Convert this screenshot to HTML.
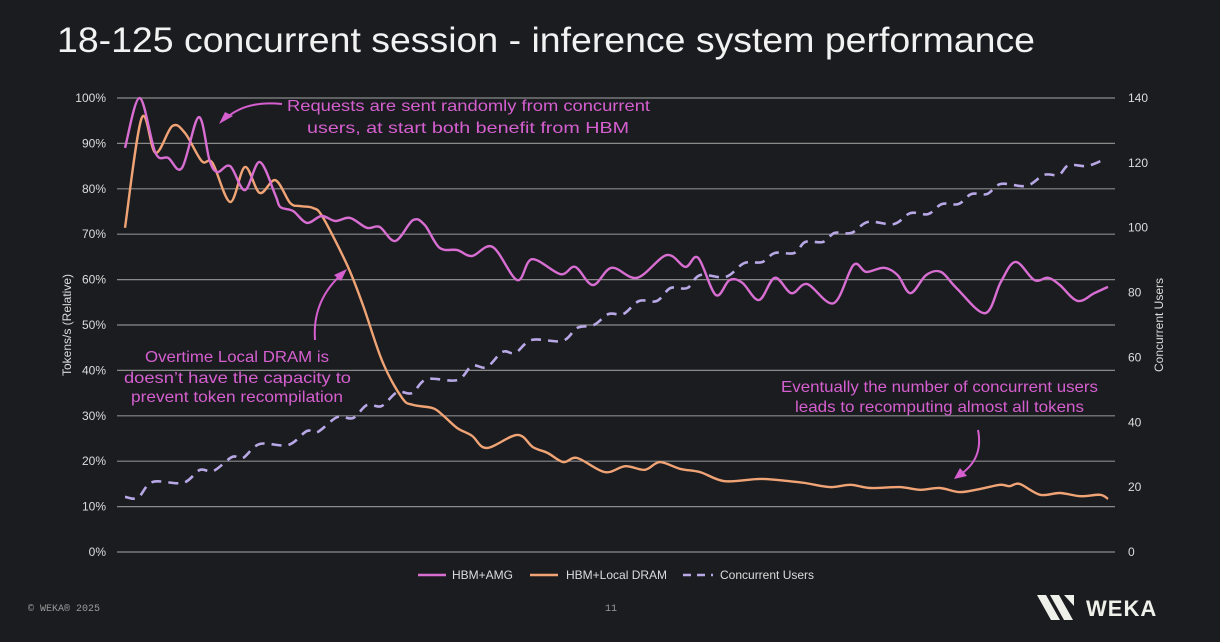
<!DOCTYPE html>
<html><head><meta charset="utf-8"><style>
html,body{margin:0;padding:0;background:#1b1c20;}
body{width:1220px;height:642px;overflow:hidden;position:relative;font-family:"Liberation Sans",sans-serif;}
svg{position:absolute;left:0;top:0;}
</style></head><body>
<svg id="chart" width="1220" height="642">
<text x="57" y="52" fill="#f2f2f2" font-size="35" textLength="978" lengthAdjust="spacingAndGlyphs">18-125 concurrent session - inference system performance</text>
<g id="grid"></g>
<g id="leftTicks" fill="#dcdcdc" font-size="12" text-anchor="end"></g>
<g id="rightTicks" fill="#dcdcdc" font-size="12"></g>
<text transform="translate(71,325) rotate(-90)" text-anchor="middle" fill="#dcdcdc" font-size="12">Tokens/s (Relative)</text>
<text transform="translate(1163,325) rotate(-90)" text-anchor="middle" fill="#dcdcdc" font-size="12">Concurrent Users</text>
<g id="series"></g>
<g fill="#d65fd0" font-size="16" font-family="'Liberation Sans',sans-serif">
<text x="287" y="111" textLength="363" lengthAdjust="spacingAndGlyphs">Requests are sent randomly from concurrent</text>
<text x="307" y="133" textLength="322" lengthAdjust="spacingAndGlyphs">users, at start both benefit from HBM</text>
<text x="145" y="362" textLength="184" lengthAdjust="spacingAndGlyphs">Overtime Local DRAM is</text>
<text x="124" y="383" textLength="227" lengthAdjust="spacingAndGlyphs">doesn’t have the capacity to</text>
<text x="131" y="402" textLength="212" lengthAdjust="spacingAndGlyphs">prevent token recompilation</text>
<text x="781" y="392" textLength="317" lengthAdjust="spacingAndGlyphs">Eventually the number of concurrent users</text>
<text x="795" y="412" textLength="289" lengthAdjust="spacingAndGlyphs">leads to recomputing almost all tokens</text>
</g>
<g stroke="#d65fd0" stroke-width="2" fill="none">
<path d="M282,104 Q245,100 224,120"/>
<path d="M315,340 Q312,300 343,273"/>
<path d="M978,430 Q984,460 958,476"/>
</g>
<g fill="#d65fd0">
<polygon points="219,124 233,116 225,112"/>
<polygon points="347,269 334,275 341,281"/>
<polygon points="954,479 967,476 960,468"/>
</g>
<g font-size="12" fill="#dcdcdc">
<line x1="418" y1="575" x2="446" y2="575" stroke="#d86ed2" stroke-width="2.5"/>
<text x="452" y="579">HBM+AMG</text>
<line x1="530" y1="575" x2="558" y2="575" stroke="#f0a475" stroke-width="2.5"/>
<text x="566" y="579">HBM+Local DRAM</text>
<line x1="683" y1="575" x2="713" y2="575" stroke="#b8a8e6" stroke-width="2.5" stroke-dasharray="8,6"/>
<text x="720" y="579">Concurrent Users</text>
</g>
<text x="28" y="611" fill="#9a9a9a" font-size="10" font-family="'Liberation Mono',monospace">© WEKA® 2025</text>
<text x="605" y="611" fill="#9a9a9a" font-size="10" font-family="'Liberation Mono',monospace">11</text>
<g fill="#f0f0ea">
<polygon points="1037,595 1046,595 1060,620 1051,620"/>
<polygon points="1050,595 1059,595 1073,620 1064,620"/>
<polygon points="1064,595 1074,595 1074,606"/>
<text x="1086" y="616" font-size="22" font-weight="bold" letter-spacing="1">WEKA</text>
</g>
</svg>
<script>
const leftTickLabels=["0%","10%","20%","30%","40%","50%","60%","70%","80%","90%","100%"];
const rightTickLabels=[0,20,40,60,80,100,120,140];
const tAmg=[0,1.5,3.1,4.4,5.8,7.5,8.6,9.4,10.7,12.2,13.7,15.3,15.8,17.1,18.5,20.0,21.4,22.9,24.6,25.9,27.5,29.3,30.5,32.0,33.8,35.3,37.4,39.9,41.4,44.3,45.8,47.6,49.5,52.1,55.1,57.0,58.3,60.1,61.5,62.8,64.5,66.1,67.8,69.4,72.1,74.1,75.4,77.2,78.6,79.9,81.5,83.0,84.6,87.5,89.1,90.6,92.5,93.9,95.1,96.9,98.6,100];
const vAmg=[89.0,100,87.9,86.8,84.6,95.8,86.3,83.7,85.0,79.7,85.9,78.6,76.0,75.1,72.5,74.0,72.9,73.6,71.4,71.6,68.5,73.1,72.0,67.0,66.5,65.2,67.2,59.9,64.5,61.2,62.8,58.8,62.6,60.4,65.4,62.8,64.8,56.6,59.9,59.3,55.5,60.4,57.0,59.0,54.8,63.2,61.7,62.6,61.0,57.0,61.0,61.7,58.1,52.6,59.5,63.9,59.9,60.4,58.8,55.3,57.0,58.4];
const tDram=[0,1.7,3.1,4.8,6.1,7.8,8.9,10.7,12.2,13.7,15.3,16.8,17.8,19.1,20.1,22.6,24.2,26.2,28.2,29.3,31.3,32.3,33.8,35.3,36.8,39.9,41.5,43.0,44.6,46.0,48.8,50.9,52.9,54.4,56.5,58.5,61.0,64.6,67.6,69.2,71.7,73.8,75.8,78.8,80.9,82.9,84.9,87.0,89.0,90.0,91.0,93.1,95.1,97.2,99.2,100];
const vDram=[71.4,95.6,87.9,93.8,92.3,86.1,85.7,77.1,84.8,79.1,81.9,76.9,76.2,75.8,73.8,63.2,54.4,41.9,33.9,32.4,31.7,30.2,27.3,25.6,22.9,25.8,23.1,21.8,19.8,20.7,17.6,18.9,18.1,19.8,18.3,17.6,15.6,16.1,15.6,15.2,14.3,14.8,14.1,14.3,13.7,14.1,13.2,13.9,14.8,14.5,15.0,12.6,13.0,12.3,12.6,11.7];
const tUsers=[0,1.3,2.8,5.9,7.6,9.0,10.9,12.0,13.7,16.6,18.5,19.6,21.6,23.2,24.6,26.1,27.7,29.2,30.7,33.8,35.3,36.8,38.4,39.7,41.4,44.5,46.0,47.7,49.2,50.7,52.3,54.1,55.5,57.2,58.5,61.1,63.0,64.8,66.1,68.1,69.2,71.0,72.2,73.9,75.6,78.2,79.9,81.7,83.1,84.8,86.1,87.7,89.1,91.7,93.5,95.0,96.0,97.8,99.3];
const vUsers=[17.0,16.7,21.6,21.3,25.3,25.0,29.3,29.0,33.3,33.0,37.3,37.0,41.6,41.3,45.3,45.0,49.3,49.0,53.3,53.0,57.4,57.0,61.7,61.4,65.4,65.1,69.1,70.0,73.4,73.4,77.4,77.4,81.4,81.4,85.4,84.8,89.1,89.4,92.2,92.2,95.6,95.6,98.4,98.4,101.8,101.1,104.5,104.2,107.3,107.3,110.4,110.4,113.5,112.9,116.3,116.3,119.3,119.0,120.6];

const NS="http://www.w3.org/2000/svg";
const X0=125,X1=1108,Y0=552,Y1=98;
function xs(t){return X0+(X1-X0)*t/100;}
function yl(p){return Y0-(Y0-Y1)*p/100;}
function yr(u){return Y0-(Y0-Y1)*u/140;}
function mk(tag,attrs,parent){const e=document.createElementNS(NS,tag);for(const k in attrs)e.setAttribute(k,attrs[k]);parent.appendChild(e);return e;}
const grid=document.getElementById('grid'),lt=document.getElementById('leftTicks'),rt=document.getElementById('rightTicks'),ser=document.getElementById('series');
leftTickLabels.forEach((lab,i)=>{
  const y=yl(i*10);
  const ln=mk('line',{x1:117,x2:1115,y1:y,y2:y,stroke:'#8a8a8a','stroke-width':1.2},grid);
  
  
  const tx=mk('text',{x:106,y:y+4},lt);tx.textContent=lab;
  
  
});
rightTickLabels.forEach(v=>{
  const tx=mk('text',{x:1128,y:yr(v)+4},rt);tx.textContent=v;
  
  
});
function smooth(pts){
  let d='M'+pts[0][0].toFixed(1)+','+pts[0][1].toFixed(1);
  for(let i=0;i<pts.length-1;i++){
    const p0=pts[i-1]||pts[i],p1=pts[i],p2=pts[i+1],p3=pts[i+2]||p2;
    const c1=[p1[0]+(p2[0]-p0[0])/6,p1[1]+(p2[1]-p0[1])/6];
    const c2=[p2[0]-(p3[0]-p1[0])/6,p2[1]-(p3[1]-p1[1])/6];
    d+='C'+c1[0].toFixed(1)+','+c1[1].toFixed(1)+' '+c2[0].toFixed(1)+','+c2[1].toFixed(1)+' '+p2[0].toFixed(1)+','+p2[1].toFixed(1);
  }
  return d;
}
const pU=mk('path',{d:smooth(tUsers.map((t,i)=>[xs(t),yr(vUsers[i])])),fill:'none',stroke:'#b8a8e6','stroke-width':2.6,'stroke-dasharray':'10,7'},ser);


const pD=mk('path',{d:smooth(tDram.map((t,i)=>[xs(t),yl(vDram[i])])),fill:'none',stroke:'#f0a475','stroke-width':2.4},ser);


const pA=mk('path',{d:smooth(tAmg.map((t,i)=>[xs(t),yl(vAmg[i])])),fill:'none',stroke:'#d86ed2','stroke-width':2.4},ser);


</script>
</body></html>
